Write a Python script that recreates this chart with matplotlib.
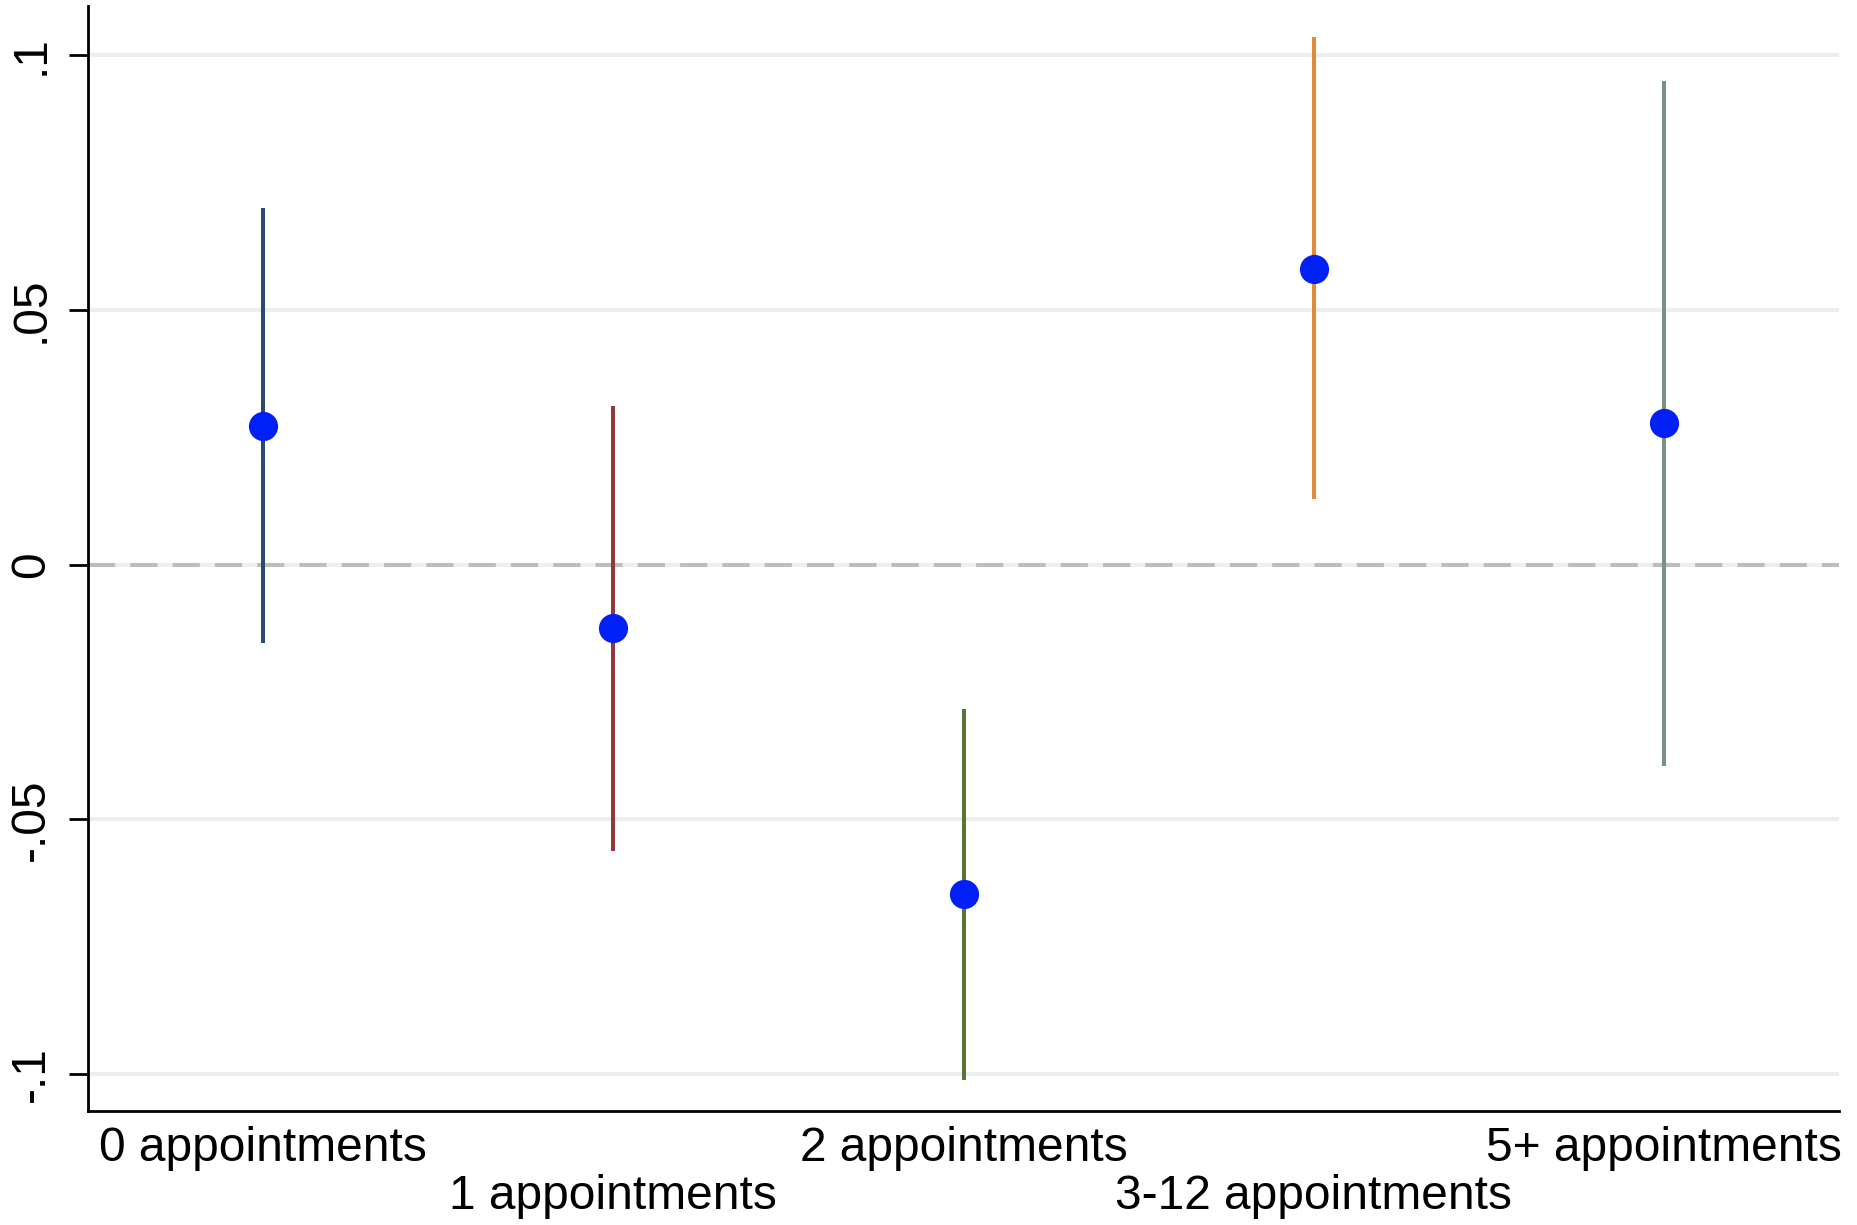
import matplotlib
matplotlib.use('Agg')
import matplotlib.pyplot as plt

plt.rcParams['font.family'] = ['Liberation Sans', 'DejaVu Sans']

# 系数与置信区间
groups = ['0 appointments', '1 appointments', '2 appointments', '3-12 appointments', '5+ appointments']
coef = [0.0272, -0.0125, -0.0647, 0.0580, 0.0277]
ci_low = [-0.0154, -0.0561, -0.1011, 0.0128, -0.0395]
ci_high = [0.0700, 0.0312, -0.0283, 0.1036, 0.0948]
line_colors = ['#2a4a6f', '#8e3a3f', '#5a7434', '#e08a3a', '#7b8f87']

y_ticks = [-0.1, -0.05, 0, 0.05, 0.1]
y_tick_labels = ['-.1', '-.05', '0', '.05', '.1']

fig = plt.figure(figsize=(18.58, 12.25), dpi=100)
ax = fig.add_axes([0.0474, 0.0931, 0.9424, 0.902])

pos = list(range(len(groups)))

# 网格线 + 零线
ax.set_yticks(y_ticks)
ax.set_yticklabels(y_tick_labels, rotation=90, va='center', fontsize=34.5)
ax.grid(axis='y', color='#eaf0f2', linewidth=2.9)
ax.axhline(0, color='#bdbdbd', linewidth=2.9, linestyle=(0, (6.75, 3.75)), zorder=1.8)

# 置信区间竖线
for p, lo, hi, c in zip(pos, ci_low, ci_high, line_colors):
    ax.vlines(p, lo, hi, colors=c, linewidth=2.9, zorder=2)

# 点估计
ax.plot(pos, coef, 'o', color='#0020f5', markersize=21, markeredgewidth=0, zorder=3, linestyle='none')

ax.set_xlim(-0.5, 4.5)
ax.set_ylim(-0.1072, 0.1096)

# x轴标签分两行交错显示
ax.set_xticks(pos[0::2])
ax.set_xticklabels(groups[0::2], fontsize=34.5)
ax.set_xticks(pos[1::2], minor=True)
ax.set_xticklabels(groups[1::2], minor=True, fontsize=34.5)
ax.tick_params(axis='x', which='major', length=0, pad=11)
ax.tick_params(axis='x', which='minor', length=0, pad=11 + 34.5)
ax.tick_params(axis='y', length=13.7, width=2, pad=11)

for side in ['top', 'right']:
    ax.spines[side].set_visible(False)
for side in ['left', 'bottom']:
    ax.spines[side].set_linewidth(2)
    ax.spines[side].set_color('black')

fig.savefig('out.png', dpi=100)
